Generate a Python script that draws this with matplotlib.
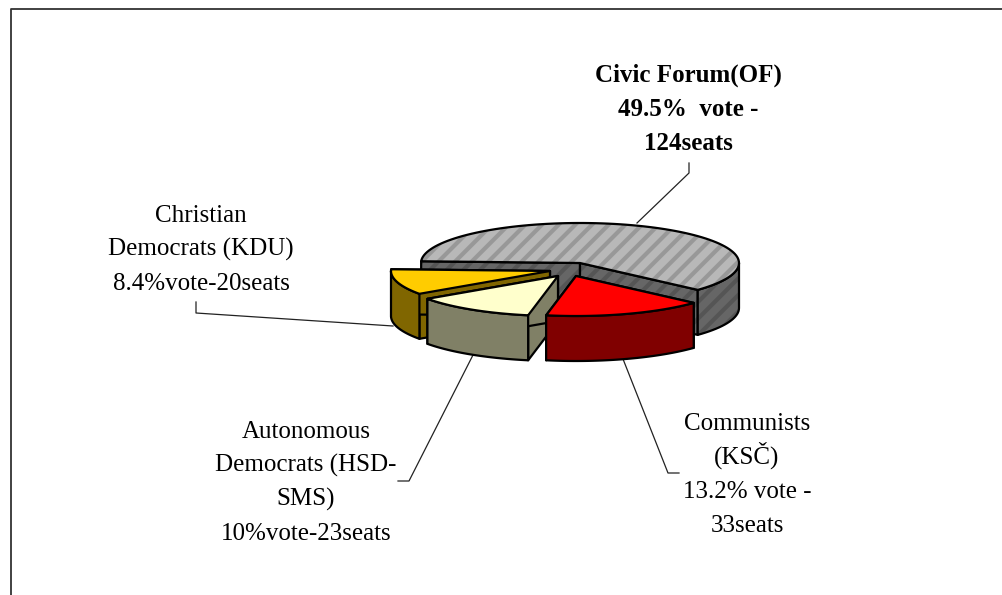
import numpy as np
import matplotlib
matplotlib.use("Agg")
import matplotlib.pyplot as plt
from matplotlib.patches import Polygon

parties = ["Civic Forum", "Communists", "Autonomous Democrats", "Christian Democrats"]
vote_share = [49.5, 13.2, 10, 8.4]
labels = [
    ["Civic Forum(OF)", "49.5%  vote -", "124seats"],
    ["Communists", "(KSČ)", "13.2% vote -", "33seats"],
    ["Autonomous", "Democrats (HSD-", "SMS)", "10%vote-23seats"],
    ["Christian", "Democrats (KDU)", "8.4%vote-20seats"],
]
top_colors = ["#b8b8b8", "#ff0000", "#ffffcc", "#ffcc00"]
side_colors = ["#666666", "#800000", "#808066", "#806600"]

plt.rcParams["font.family"] = ["Liberation Serif", "DejaVu Serif"]
plt.rcParams["hatch.linewidth"] = 3

# pie geometry in picture pixels
cx, cy = 580, 263
rx, ry = 159, 40
depth = 45
start_angle = 177.5
offsets = [(0, 0), (-4, 13), (-22, 13), (-30, 8)]
draw_order = [0, 3, 2, 1]
label_pos = [(688, 82), (747, 430), (306, 438), (201, 222)]
line_step = 34
leaders = [
    ([689, 689, 637], [163, 173, 223]),
    ([679, 668, 623], [473, 473, 359]),
    ([398, 409, 473], [481, 481, 355]),
    ([196, 196, 393], [302, 313, 326]),
]

fig = plt.figure(figsize=(10.02, 5.95), dpi=100)
ax = fig.add_axes([0, 0, 1, 1])
ax.set_xlim(0, 1002)
ax.set_ylim(595, 0)
ax.axis("off")

# outer frame, bottom and right are cut off in the original
ax.plot([11, 11, 1002], [595, 9, 9], color="#333333", lw=1.3, zorder=1)


def face(xs, ys, color, hatch_color, z):
    pts = np.column_stack([xs, ys])
    if hatch_color:
        ax.add_patch(Polygon(pts, closed=True, facecolor=color, edgecolor=hatch_color,
                             hatch="//", lw=0, zorder=z))
        ax.add_patch(Polygon(pts, closed=True, fill=False, edgecolor="black", lw=1.6,
                             joinstyle="round", zorder=z))
    else:
        ax.add_patch(Polygon(pts, closed=True, facecolor=color, edgecolor="black", lw=1.6,
                             joinstyle="round", zorder=z))


total = sum(vote_share)
angle = start_angle
for i in range(len(parties)):
    sweep = vote_share[i] / total * 360
    a = np.radians(np.linspace(angle, angle - sweep, 100))
    angle -= sweep
    ox = cx + offsets[i][0]
    oy = cy + offsets[i][1]
    arc_x = ox + rx * np.cos(a)
    arc_y = oy - ry * np.sin(a)
    hatch_side = "#555555" if i == 0 else None
    hatch_top = "#989898" if i == 0 else None
    z = 2 + draw_order[i] * 4

    # cut faces first, then the rim, the top goes last
    for j in [0, -1]:
        face([ox, arc_x[j], arc_x[j], ox], [oy, arc_y[j], arc_y[j] + depth, oy + depth],
             side_colors[i], hatch_side, z)
    front = np.sin(a) <= 0
    if front.any():
        fx = arc_x[front]
        fy = arc_y[front]
        face(np.r_[fx, fx[::-1]], np.r_[fy, fy[::-1] + depth], side_colors[i], hatch_side, z + 1)
    face(np.r_[ox, arc_x], np.r_[oy, arc_y], top_colors[i], hatch_top, z + 2)

    ax.plot(leaders[i][0], leaders[i][1], color="#222222", lw=0.9, zorder=1)
    for n, line in enumerate(labels[i]):
        ax.text(label_pos[i][0], label_pos[i][1] + n * line_step, line, ha="center", va="baseline",
                fontsize=18, fontweight="bold" if i == 0 else "normal", color="black", zorder=30)

fig.savefig("out.png", dpi=100)
